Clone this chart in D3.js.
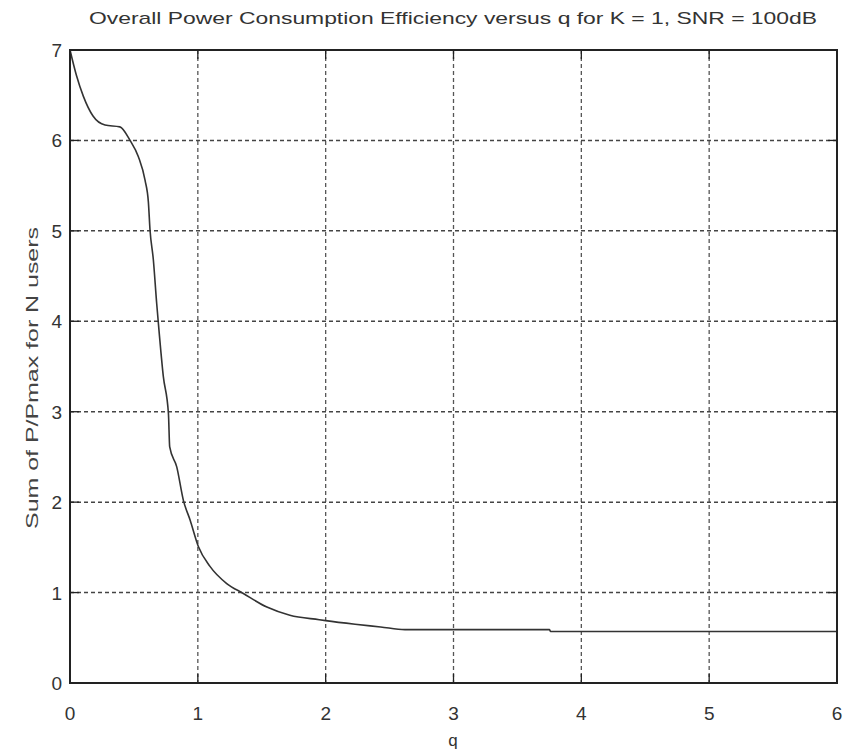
<!DOCTYPE html>
<html><head><meta charset="utf-8">
<script src="https://cdn.jsdelivr.net/npm/d3@7"></script>
<style>body{margin:0;background:#fff;}svg{display:block;}</style>
</head><body>
<svg id="c" width="846" height="751"></svg>
<script>
const qValues = [0, 0.05, 0.104, 0.18, 0.274, 0.39, 0.47, 0.535, 0.587, 0.613, 0.626, 0.652, 0.678, 0.69, 0.73, 0.77, 0.78, 0.835, 0.887, 0.94, 1.004, 1.095, 1.226, 1.356, 1.54, 1.72, 1.95, 2.0, 2.23, 2.43, 2.62, 3.0, 3.5, 3.75, 3.76, 4.5, 5.0, 6.0];
const sumValues = [7.0, 6.72, 6.49, 6.27, 6.17, 6.15, 6.0, 5.82, 5.56, 5.32, 5.01, 4.68, 4.2, 4.0, 3.39, 2.98, 2.61, 2.39, 2.02, 1.80, 1.51, 1.29, 1.10, 0.99, 0.84, 0.75, 0.70, 0.69, 0.65, 0.62, 0.59, 0.59, 0.59, 0.59, 0.57, 0.57, 0.57, 0.57];
const xTicks = [0, 1, 2, 3, 4, 5, 6];
const yTicks = [0, 1, 2, 3, 4, 5, 6, 7];
const titleText = "Overall Power Consumption Efficiency versus q for K = 1, SNR = 100dB";
const xLabel = "q";
const yLabel = "Sum of P/Pmax for N users";

const svg = d3.select("#c");
const m = {l: 70, r: 837, t: 50, b: 683};
const x = d3.scaleLinear().domain([0, 6]).range([m.l, m.r]);
const y = d3.scaleLinear().domain([0, 7]).range([m.b, m.t]);
const font = "'Liberation Sans', Arial, sans-serif";

// grid
svg.append("g").selectAll("line.gx").data(xTicks.slice(1, -1)).join("line")
  .attr("x1", d => x(d)).attr("x2", d => x(d)).attr("y1", m.t).attr("y2", m.b)
  .attr("stroke", "#555").attr("stroke-width", 1.3).attr("stroke-dasharray", "4,3");
svg.append("g").selectAll("line.gy").data(yTicks.slice(1, -1)).join("line")
  .attr("x1", m.l).attr("x2", m.r).attr("y1", d => y(d)).attr("y2", d => y(d))
  .attr("stroke", "#444").attr("stroke-width", 1.5).attr("stroke-dasharray", "4,3");

// ticks inward on all four sides
const tl = 9;
const tg = svg.append("g").attr("stroke", "#222").attr("stroke-width", 1.3);
xTicks.forEach(d => {
  tg.append("line").attr("x1", x(d)).attr("x2", x(d)).attr("y1", m.b).attr("y2", m.b - tl);
  tg.append("line").attr("x1", x(d)).attr("x2", x(d)).attr("y1", m.t).attr("y2", m.t + tl);
});
yTicks.forEach(d => {
  tg.append("line").attr("x1", m.l).attr("x2", m.l + tl).attr("y1", y(d)).attr("y2", y(d));
  tg.append("line").attr("x1", m.r).attr("x2", m.r - tl).attr("y1", y(d)).attr("y2", y(d));
});

// curve
const line = d3.line().x((d, i) => x(qValues[i])).y((d, i) => y(sumValues[i])).curve(d3.curveMonotoneX);
svg.append("path").datum(sumValues).attr("d", line)
  .attr("fill", "none").attr("stroke", "#333").attr("stroke-width", 1.6);

// box
svg.append("rect").attr("x", m.l).attr("y", m.t).attr("width", m.r - m.l).attr("height", m.b - m.t)
  .attr("fill", "none").attr("stroke", "#222").attr("stroke-width", 2);

// tick labels
svg.append("g").selectAll("text").data(xTicks).join("text")
  .attr("x", d => x(d)).attr("y", 720).attr("text-anchor", "middle")
  .attr("font-family", font).attr("font-size", 19).attr("fill", "#333").text(d => d);
svg.append("g").selectAll("text").data(yTicks).join("text")
  .attr("x", 62).attr("y", d => y(d) + 7).attr("text-anchor", "end")
  .attr("font-family", font).attr("font-size", 19).attr("fill", "#333").text(d => d);

// title & labels
svg.append("text").attr("x", 453).attr("y", 24).attr("text-anchor", "middle")
  .attr("font-family", font).attr("font-size", 17).attr("fill", "#333")
  .attr("textLength", 728).attr("lengthAdjust", "spacingAndGlyphs").text(titleText);
svg.append("text").attr("x", 453).attr("y", 746).attr("text-anchor", "middle")
  .attr("font-family", font).attr("font-size", 17).attr("fill", "#333").text(xLabel);
svg.append("text").attr("transform", "translate(38,378) rotate(-90)").attr("text-anchor", "middle")
  .attr("font-family", font).attr("font-size", 17).attr("fill", "#444")
  .attr("textLength", 302).attr("lengthAdjust", "spacingAndGlyphs").text(yLabel);
</script>
</body></html>
